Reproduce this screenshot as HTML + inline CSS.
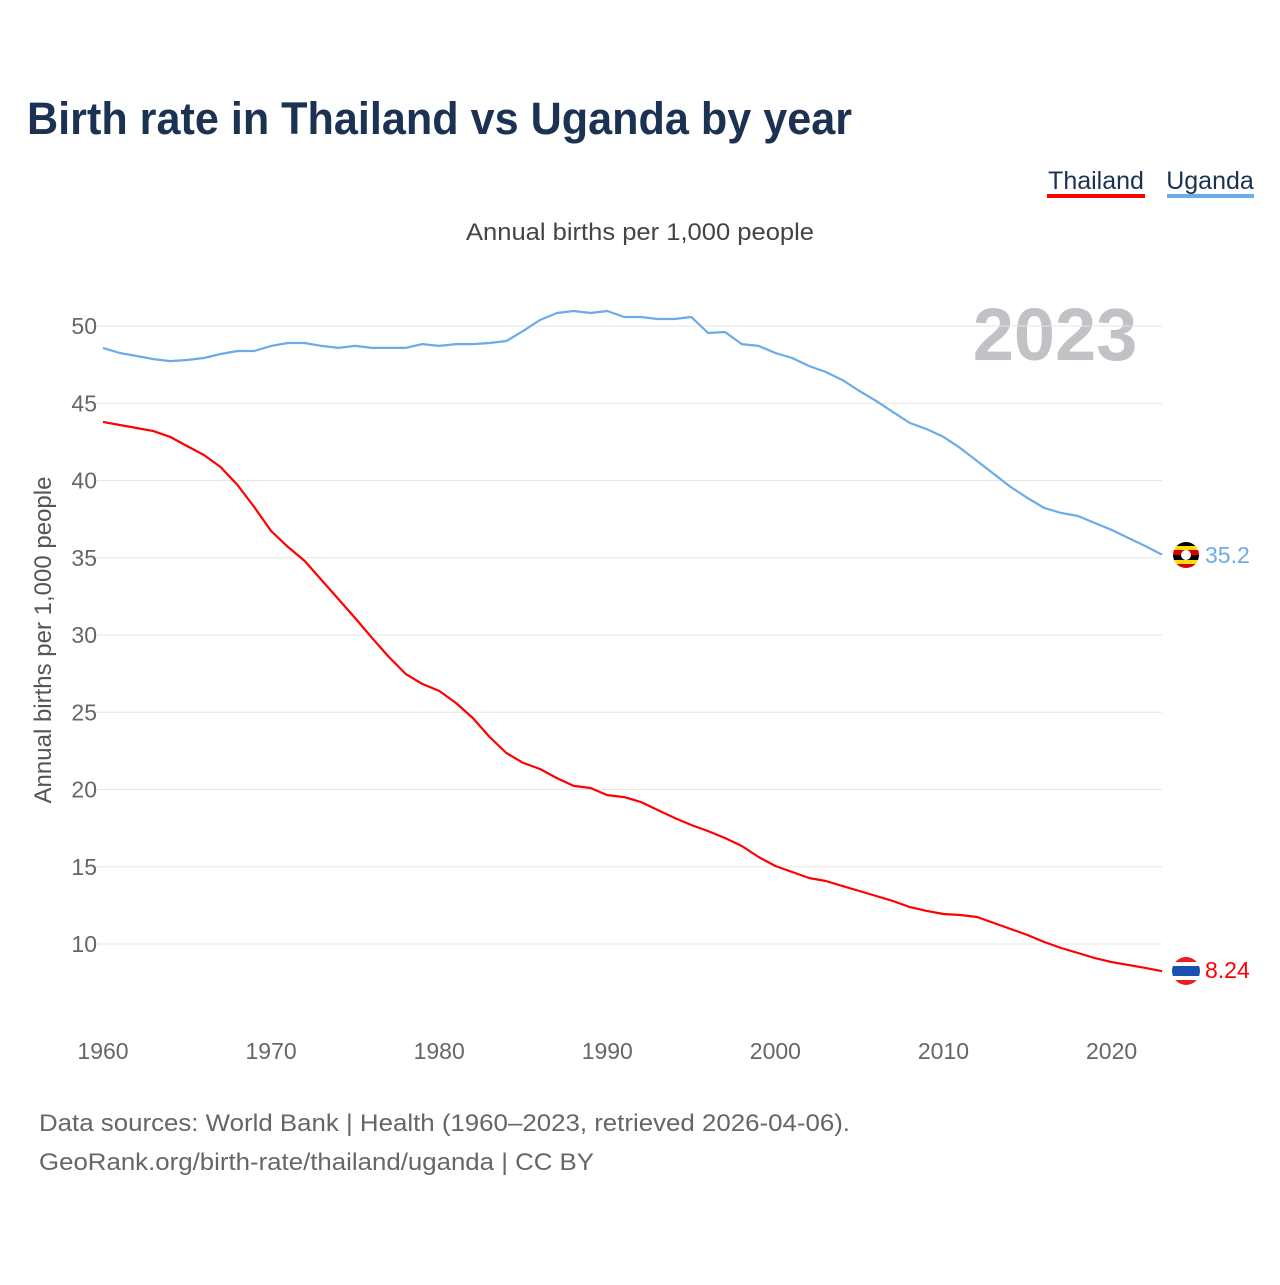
<!DOCTYPE html>
<html><head><meta charset="utf-8"><style>
body{margin:0;background:#fff;font-family:"Liberation Sans",sans-serif;}
</style></head><body>
<svg id="chart" width="1280" height="1280" xmlns="http://www.w3.org/2000/svg">
<text x="27" y="134" font-size="45" font-weight="bold" fill="#1b3252" textLength="825" lengthAdjust="spacingAndGlyphs">Birth rate in Thailand vs Uganda by year</text>
<g>
<text x="1096" y="189" font-size="25" fill="#1b3252" text-anchor="middle">Thailand</text>
<rect x="1047" y="194" width="98" height="4" fill="#ff0000"/>
<text x="1210" y="189" font-size="25" fill="#1b3252" text-anchor="middle">Uganda</text>
<rect x="1167" y="194" width="87" height="4" fill="#6aabe8"/>
</g>
<text x="466" y="240" font-size="24" fill="#444" textLength="348" lengthAdjust="spacingAndGlyphs">Annual births per 1,000 people</text>
<text x="1055" y="360" font-size="74" font-weight="bold" fill="#c0c2c6" text-anchor="middle">2023</text>
<text transform="translate(51,640) rotate(-90)" font-size="24" fill="#555" text-anchor="middle">Annual births per 1,000 people</text>
<g id="grid"></g><g id="yt"></g><g id="xt"></g><g id="lines"></g>
<g>
<circle cx="1186" cy="555" r="14" fill="#fff"/>
<clipPath id="cu"><circle cx="1186" cy="555" r="13"/></clipPath>
<g clip-path="url(#cu)"><rect x="1172" y="541" width="28" height="5" fill="#000"/><rect x="1172" y="546" width="28" height="4" fill="#fcdc04"/><rect x="1172" y="550" width="28" height="5" fill="#d90000"/><rect x="1172" y="555" width="28" height="5" fill="#000"/><rect x="1172" y="560" width="28" height="4" fill="#fcdc04"/><rect x="1172" y="564" width="28" height="5" fill="#d90000"/><circle cx="1186" cy="555" r="5" fill="#fff"/></g>
</g>
<text x="1205" y="563" font-size="23" fill="#6aabe8">35.2</text>
<g>
<clipPath id="ct"><circle cx="1186" cy="971" r="14"/></clipPath>
<g clip-path="url(#ct)"><rect x="1172" y="957" width="28" height="28" fill="#fff"/><rect x="1172" y="957" width="28" height="5" fill="#ed1c24"/><rect x="1172" y="980" width="28" height="5" fill="#ed1c24"/><rect x="1172" y="966" width="28" height="10" fill="#1a50b0"/></g>
</g>
<text x="1205" y="978" font-size="23" fill="#ff0000">8.24</text>
<text x="39" y="1131" font-size="24" fill="#666" textLength="811" lengthAdjust="spacingAndGlyphs">Data sources: World Bank | Health (1960–2023, retrieved 2026-04-06).</text>
<text x="39" y="1170" font-size="24" fill="#666" textLength="555" lengthAdjust="spacingAndGlyphs">GeoRank.org/birth-rate/thailand/uganda | CC BY</text>
</svg>
<script>
const years=[];for(let y=1960;y<=2023;y++)years.push(y);
const uganda=[48.58,48.25,48.06,47.86,47.73,47.80,47.93,48.19,48.38,48.38,48.71,48.90,48.90,48.71,48.58,48.71,48.58,48.58,48.58,48.83,48.71,48.83,48.83,48.9,49.03,49.68,50.39,50.84,50.97,50.84,50.97,50.58,50.58,50.45,50.45,50.58,49.55,49.61,48.83,48.71,48.25,47.93,47.41,47.02,46.5,45.79,45.15,44.43,43.72,43.33,42.82,42.1,41.26,40.42,39.58,38.87,38.22,37.9,37.7,37.25,36.8,36.28,35.76,35.2];
const thailand=[43.79,43.59,43.40,43.20,42.82,42.23,41.65,40.87,39.71,38.28,36.73,35.70,34.79,33.56,32.33,31.10,29.81,28.58,27.48,26.83,26.38,25.60,24.63,23.40,22.36,21.72,21.33,20.74,20.23,20.10,19.64,19.51,19.19,18.67,18.16,17.70,17.31,16.86,16.34,15.63,15.05,14.66,14.27,14.08,13.75,13.43,13.11,12.78,12.39,12.14,11.94,11.88,11.75,11.36,10.97,10.58,10.13,9.74,9.42,9.09,8.83,8.64,8.45,8.24];
const yTicks=[10,15,20,25,30,35,40,45,50];
const xTicks=[1960,1970,1980,1990,2000,2010,2020];
const NS="http://www.w3.org/2000/svg";
const X=v=>103+(v-1960)*(1162-103)/63;
const Y=v=>944-(v-10)*(944-326)/40;
function mk(t,p,a){const e=document.createElementNS(NS,t);for(const k in a)e.setAttribute(k,a[k]);p.appendChild(e);return e;}
const g=document.getElementById('grid'),yt=document.getElementById('yt'),xt=document.getElementById('xt'),ln=document.getElementById('lines');
yTicks.forEach(v=>{
 const l=mk('line',g,{x1:95,x2:1162,y1:Y(v),y2:Y(v),stroke:'#e6e6e6','stroke-width':1});
 
 
 const t=mk('text',yt,{x:97,y:Y(v)+8,'font-size':23,fill:'#666','text-anchor':'end'});t.textContent=v;
 
 
});
xTicks.forEach(v=>{
 const t=mk('text',xt,{x:X(v),y:1059,'font-size':23,fill:'#666','text-anchor':'middle'});t.textContent=v;
 
 
});
function line(arr,c,n){
 const p=mk('path',ln,{d:arr.map((v,i)=>(i?'L':'M')+X(years[i]).toFixed(1)+','+Y(v).toFixed(1)).join(''),fill:'none',stroke:c,'stroke-width':2.2,'stroke-linejoin':'round'});
 
 
}
line(uganda,'#6aabe8','line-uganda');
line(thailand,'#ff0000','line-thailand');
</script>
</body></html>
